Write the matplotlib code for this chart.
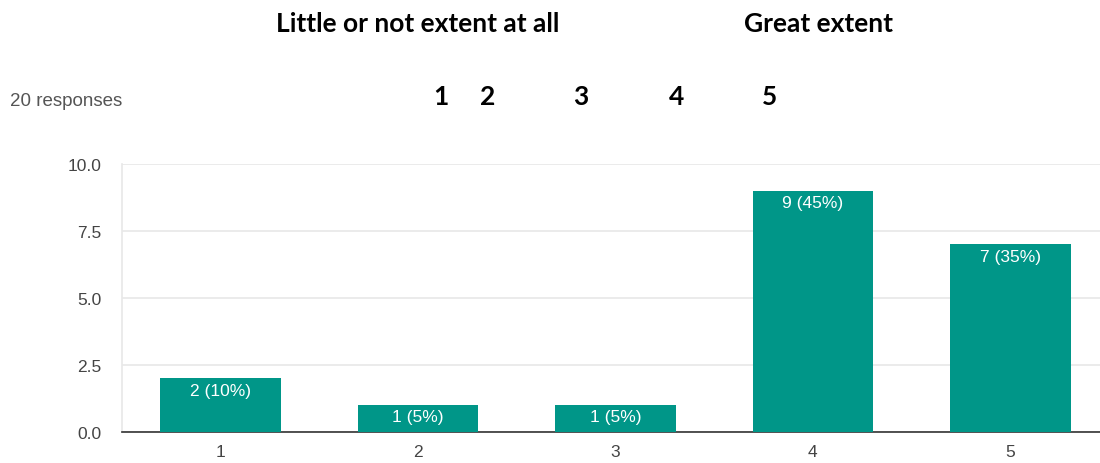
import matplotlib.pyplot as plt
import numpy as np

# Google Forms style response chart
categories = ['1', '2', '3', '4', '5']
counts = [2, 1, 1, 9, 7]
pct = [10, 5, 5, 45, 35]
yticks = [0.0, 2.5, 5.0, 7.5, 10.0]

fig = plt.figure(figsize=(11, 4.64), dpi=100)
ax = fig.add_axes([122 / 1100, 31 / 464, 987 / 1100, 268 / 464])

x = np.arange(1, len(categories) + 1)
bars = ax.bar(x, counts, width=0.61, color='#009688', zorder=3)

for b, c, p in zip(bars, counts, pct):
    ax.annotate('%d (%d%%)' % (c, p), (b.get_x() + b.get_width() / 2, b.get_height()),
                xytext=(0, -3), textcoords='offset points', ha='center', va='top',
                color='white', fontsize=12.5, family='Liberation Sans', zorder=4)

ax.set_xlim(0.5, 5.5)
ax.set_ylim(0, 10)
ax.set_xticks(x)
ax.set_xticklabels(categories)
ax.set_yticks(yticks)
ax.set_yticklabels(['%.1f' % t for t in yticks])
ax.tick_params(length=0, labelsize=12.5, labelcolor='#444444')
ax.tick_params(axis='y', pad=15)
ax.tick_params(axis='x', pad=9)
for lab in ax.get_xticklabels() + ax.get_yticklabels():
    lab.set_family('Liberation Sans')
ax.yaxis.grid(True, color='#e8e8e8', linewidth=1.2, zorder=0)
ax.spines['top'].set_visible(False)
ax.spines['right'].set_visible(False)
ax.spines['left'].set_color('#e8e8e8')
ax.spines['left'].set_linewidth(1.2)
ax.spines['bottom'].set_color('#333333')
ax.spines['bottom'].set_linewidth(1.2)

# header text pasted above the chart
fig.text(418 / 1100, 1 - 24 / 464, 'Little or not extent at all', ha='center', va='center',
         fontsize=19, fontweight='bold', family='Lato')
fig.text(819 / 1100, 1 - 24 / 464, 'Great extent', ha='center', va='center',
         fontsize=19, fontweight='bold', family='Lato')
for xp, s in zip([441, 488, 581, 677, 770], ['1', '2', '3', '4', '5']):
    fig.text(xp / 1100, 1 - 97 / 464, s, ha='center', va='center',
             fontsize=19, fontweight='bold', family='Lato')
fig.text(10 / 1100, 1 - 101 / 464, '20 responses', ha='left', va='center',
         fontsize=13.5, color='#555555', family='Liberation Sans')

fig.savefig('out.png', dpi=100)
